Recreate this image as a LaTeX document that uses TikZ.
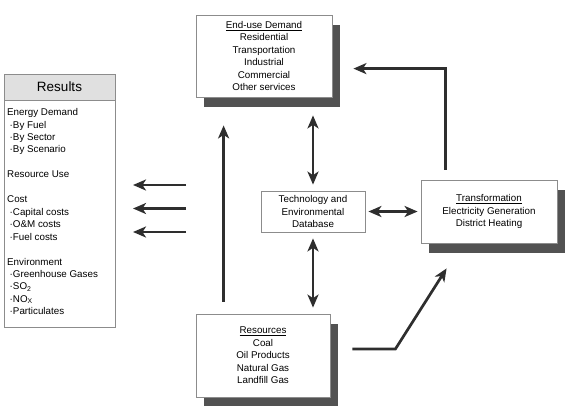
\documentclass[tikz,border=0pt]{standalone}
\usepackage{fontspec}
\setmainfont{Liberation Sans}
\usetikzlibrary{arrows.meta,shadows,calc}
\begin{document}
\begin{tikzpicture}[x=1pt,y=-1pt,
  txt/.style={font=\fontsize{9.8}{12.45}\selectfont},
  box/.style={txt,draw=black!45,line width=0.8pt,fill=white,inner sep=0pt,align=center},
  shadowed/.style={drop shadow={shadow xshift=8pt,shadow yshift=-10pt,fill=black!68,opacity=1}},
  arr/.style={draw=black!82,line width=2.7pt,-{Stealth[length=13pt,width=11pt,inset=3.5pt]}},
  darr/.style={draw=black!82,line width=2.7pt,{Stealth[length=13pt,width=11pt,inset=3.5pt]}-{Stealth[length=13pt,width=11pt,inset=3.5pt]}},
]
\useasboundingbox (0,0) rectangle (569,405);

% boxes
\node[box,shadowed,minimum width=136pt,minimum height=82pt] (end) at (264,56)
  {\underline{End-use Demand}\\Residential\\Transportation\\Industrial\\Commercial\\Other services};
\node[box,shadowed,minimum width=136pt,minimum height=63pt] (trans) at (489,211.5)
  {\underline{Transformation}\\Electricity Generation\\District Heating};
\node[box,shadowed,minimum width=134pt,minimum height=83pt] (res) at (263,355.5)
  {\underline{Resources}\\Coal\\Oil Products\\Natural Gas\\Landfill Gas};
\node[box,minimum width=104pt,minimum height=41pt] (tech) at (313,211.5)
  {Technology and\\Environmental\\Database};

% results panel
\node[draw=black!45,line width=0.8pt,minimum width=111pt,minimum height=253pt,inner sep=0pt] (results) at (59.5,200.5) {};
\node[draw=black!45,line width=0.8pt,fill=black!12,minimum width=111pt,minimum height=26pt,inner sep=0pt,anchor=north,
  font=\fontsize{13.5}{15}\selectfont] (reshead) at (results.north) {Results};
\node[txt,anchor=north west,align=left,inner sep=0pt] (resbody) at (7,108.3)
  {Energy Demand\\
   \hspace*{2.5pt}·By Fuel\\
   \hspace*{2.5pt}·By Sector\\
   \hspace*{2.5pt}·By Scenario\\[12.45pt]
   Resource Use\\[12.45pt]
   Cost\\
   \hspace*{2.5pt}·Capital costs\\
   \hspace*{2.5pt}·O\&M costs\\
   \hspace*{2.5pt}·Fuel costs\\[12.45pt]
   Environment\\
   \hspace*{2.5pt}·Greenhouse Gases\\
   \hspace*{2.5pt}·SO\textsubscript{2}\\
   \hspace*{2.5pt}·NO\textsubscript{X}\\
   \hspace*{2.5pt}·Particulates};

% output arrows toward results
\coordinate (o1s) at (186,185); \coordinate (o1e) at (133,185);
\coordinate (o2s) at (186,208.5); \coordinate (o2e) at (133,208.5);
\coordinate (o3s) at (186,232); \coordinate (o3e) at (133,232);
\draw[arr] (o1s) -- (o1e);
\draw[arr] (o2s) -- (o2e);
\draw[arr] (o3s) -- (o3e);

% connectors
\draw[arr] ($(res.north west)+(28,-12)$) -- ($(end.south west)+(28,28)$);
\draw[darr] ($(end.south -| tech.north)+(0,18)$) -- ($(tech.north)+(0,-6)$);
\draw[darr] ($(tech.south)+(0,6)$) -- ($(res.north -| tech.south)+(0,-6)$);
\draw[darr] ($(tech.east)+(3,0)$) -- ($(trans.west)+(-3,0)$);
\draw[arr] ($(trans.north west)+(25,-10)$) |- ($(end.north east)+(21,54)$);
\draw[arr] ($(res.east)+(22,-6.5)$) -- ($(res.east)+(65,-6.5)$) -- ($(trans.south west)+(26,25)$);
\end{tikzpicture}
\end{document}
